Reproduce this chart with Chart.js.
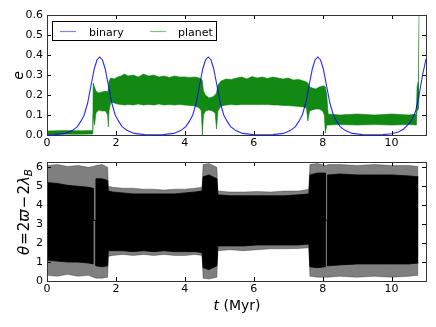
<!DOCTYPE html>
<html lang="en">
<head>
<meta charset="UTF-8">
<title>binary / planet eccentricity</title>
<script src="https://cdn.jsdelivr.net/npm/chart.js@4.4.0/dist/chart.umd.min.js"></script>
<style>
  body { margin: 0; background: #fff; }
  canvas { position: absolute; left: 0; }
  #topChart { top: 0; }
  #botChart { top: 150px; }
</style>
</head>
<body>
<canvas id="topChart" width="436" height="150"></canvas>
<canvas id="botChart" width="436" height="177"></canvas>
<script>
// ticks
var xTicks = [0, 2, 4, 6, 8, 10];
var eTicks = [0, 0.1, 0.2, 0.3, 0.4, 0.5, 0.6];
var thetaTicks = [0, 1, 2, 3, 4, 5, 6];

// binary eccentricity
var binaryT = [0, 0.23, 0.53, 0.73, 0.88, 0.98, 1.08, 1.18, 1.28, 1.37, 1.45, 1.53, 1.61, 1.69, 1.78, 1.88, 1.98, 2.08, 2.18, 2.33, 2.53, 2.83, 3.1,
  3.38, 3.68, 3.88, 4.03, 4.13, 4.23, 4.33, 4.43, 4.52, 4.60, 4.68, 4.76, 4.84, 4.93, 5.03, 5.13, 5.23, 5.33, 5.48, 5.68, 5.98, 6.27,
  6.56, 6.86, 7.06, 7.21, 7.31, 7.41, 7.51, 7.61, 7.70, 7.78, 7.86, 7.94, 8.02, 8.11, 8.21, 8.31, 8.41, 8.51, 8.66, 8.86, 9.16, 9.45,
  9.75, 10.0, 10.2, 10.35, 10.5, 10.6, 10.7, 10.8, 10.9, 11.0];
var binaryE = [0.001, 0.002, 0.008, 0.022, 0.042, 0.068, 0.10, 0.16, 0.25, 0.33, 0.375, 0.39, 0.375, 0.33, 0.25, 0.16, 0.10, 0.068, 0.042, 0.022, 0.008, 0.002, 0.001,
  0.002, 0.008, 0.022, 0.042, 0.068, 0.10, 0.16, 0.25, 0.33, 0.375, 0.39, 0.375, 0.33, 0.25, 0.16, 0.10, 0.068, 0.042, 0.022, 0.008, 0.002, 0.001,
  0.002, 0.008, 0.022, 0.042, 0.068, 0.10, 0.16, 0.25, 0.33, 0.375, 0.39, 0.375, 0.33, 0.25, 0.16, 0.10, 0.068, 0.042, 0.022, 0.008, 0.002, 0.001,
  0.002, 0.006, 0.015, 0.03, 0.055, 0.08, 0.12, 0.2, 0.3, 0.38];

// planet eccentricity: upper and lower edge of the oscillation band
var planetT = [0, 0.5, 1.0, 1.33, 1.34, 1.38, 1.42, 1.5, 1.6, 1.7, 1.76, 1.78, 1.8, 1.85, 1.95, 2.05, 2.15, 2.25, 2.35, 2.5,
  2.65, 2.8, 2.95, 3.1, 3.25, 3.4, 3.55, 3.7, 3.85, 4.0, 4.15, 4.3, 4.42, 4.48, 4.51, 4.54, 4.6, 4.7, 4.8, 4.88,
  4.92, 4.96, 5.05, 5.2, 5.35, 5.5, 5.65, 5.8, 5.95, 6.1, 6.25, 6.4, 6.55, 6.7, 6.85, 7.0, 7.15, 7.3, 7.45, 7.53,
  7.57, 7.62, 7.7, 7.8, 7.9, 8.0, 8.05, 8.08, 8.12, 8.16, 8.5, 9.0, 9.5, 10.0, 10.5, 10.72, 10.74, 10.78, 10.8];
var planetHi = [0.02, 0.022, 0.021, 0.022, 0.26, 0.24, 0.22, 0.21, 0.215, 0.22, 0.215, 0.23, 0.27, 0.285, 0.28, 0.29, 0.295, 0.305, 0.295, 0.30,
  0.29, 0.305, 0.295, 0.30, 0.29, 0.295, 0.288, 0.295, 0.29, 0.29, 0.288, 0.29, 0.285, 0.28, 0.27, 0.22, 0.2, 0.185, 0.19, 0.2,
  0.21, 0.25, 0.27, 0.28, 0.278, 0.285, 0.29, 0.28, 0.292, 0.285, 0.29, 0.283, 0.29, 0.285, 0.28, 0.285, 0.275, 0.278, 0.27, 0.265,
  0.26, 0.24, 0.235, 0.23, 0.24, 0.245, 0.245, 0.24, 0.2, 0.105, 0.1, 0.105, 0.1, 0.105, 0.1, 0.105, 0.24, 0.27, 0.65];
var planetLo = [0.003, 0.004, 0.004, 0.005, 0.10, 0.05, 0.11, 0.125, 0.12, 0.12, 0.10, 0.04, 0.12, 0.165, 0.16, 0.155, 0.152, 0.15, 0.153, 0.15,
  0.155, 0.15, 0.153, 0.15, 0.155, 0.15, 0.153, 0.15, 0.152, 0.15, 0.148, 0.145, 0.135, 0.12, 0.0, 0.1, 0.12, 0.125, 0.12, 0.11,
  0.03, 0.12, 0.145, 0.15, 0.152, 0.15, 0.153, 0.152, 0.153, 0.152, 0.153, 0.152, 0.15, 0.15, 0.148, 0.147, 0.145, 0.143, 0.14, 0.135,
  0.07, 0.12, 0.125, 0.13, 0.13, 0.12, 0.1, 0.01, 0.05, 0.05, 0.052, 0.05, 0.052, 0.05, 0.052, 0.05, 0.12, 0.13, 0.2];

// resonant angle: outer (grey spikes) and inner (solid black) band edges
var thetaT = [0, 0.3, 0.6, 0.9, 1.2, 1.34, 1.34, 1.42, 1.42, 1.6, 1.76, 1.78, 1.9, 2.2, 2.5, 2.8, 3.1, 3.4, 3.7, 4.0,
  4.3, 4.5, 4.53, 4.7, 4.93, 4.96, 5.3, 5.7, 6.1, 6.5, 6.9, 7.3, 7.6, 7.63, 7.85, 8.08, 8.08, 8.14, 8.14, 8.5,
  9.0, 9.5, 10.0, 10.5, 10.78];
var thetaOutHi = [6.1, 6.15, 6.05, 6.1, 6.0, 6.05, 6.05, 6.1, 6.1, 6.15, 6.0, 5.0, 4.95, 4.9, 4.9, 4.85, 4.85, 4.8, 4.85, 4.85,
  4.9, 4.95, 6.15, 6.2, 6.0, 4.75, 4.7, 4.7, 4.72, 4.7, 4.75, 4.75, 4.85, 6.15, 6.2, 6.1, 6.1, 6.1, 6.15, 6.15,
  6.1, 6.15, 6.1, 6.1, 6.05];
var thetaOutLo = [0.3, 0.25, 0.35, 0.25, 0.3, 0.2, 0.2, 0.15, 0.15, 0.15, 0.2, 1.3, 1.35, 1.4, 1.35, 1.4, 1.35, 1.4, 1.35, 1.35,
  1.4, 1.35, 0.15, 0.1, 0.2, 1.6, 1.65, 1.6, 1.65, 1.7, 1.7, 1.72, 1.75, 0.25, 0.2, 0.2, 0.2, 0.2, 0.2, 0.25,
  0.2, 0.25, 0.2, 0.25, 0.3];
var thetaInHi = [5.2, 5.15, 5.05, 5.0, 4.95, 4.9, 3.2, 3.2, 5.4, 5.4, 5.3, 4.75, 4.7, 4.65, 4.6, 4.6, 4.6, 4.6, 4.6, 4.65,
  4.7, 4.75, 5.5, 5.6, 5.4, 4.55, 4.5, 4.5, 4.5, 4.5, 4.5, 4.55, 4.6, 5.6, 5.7, 5.7, 3.2, 3.2, 5.6, 5.65,
  5.6, 5.6, 5.6, 5.55, 5.5];
var thetaInLo = [1.1, 1.05, 1.0, 1.0, 0.95, 0.9, 3.2, 3.2, 0.8, 0.75, 0.8, 1.6, 1.6, 1.6, 1.55, 1.6, 1.55, 1.6, 1.55, 1.55,
  1.55, 1.5, 0.7, 0.6, 0.8, 1.85, 1.85, 1.85, 1.9, 1.9, 1.9, 1.9, 1.95, 0.75, 0.7, 0.75, 3.2, 3.2, 0.8, 0.85,
  0.9, 0.9, 0.9, 0.9, 0.95];

var FONT = 'DejaVu Sans';

function pts(xs, ys) {
  return xs.map(function (x, i) { return { x: x, y: ys[i] }; });
}

// matplotlib-like frame with inward ticks on all four sides
var frame = {
  id: 'frame',
  afterDatasetsDraw: function (chart) {
    var ctx = chart.ctx, a = chart.chartArea, sx = chart.scales.x, sy = chart.scales.y;
    ctx.save();
    ctx.strokeStyle = '#000';
    ctx.lineWidth = 1;
    ctx.beginPath();
    sx.ticks.forEach(function (t) {
      var px = Math.round(sx.getPixelForValue(t.value)) + 0.5;
      ctx.moveTo(px, a.bottom); ctx.lineTo(px, a.bottom - 4);
      ctx.moveTo(px, a.top); ctx.lineTo(px, a.top + 4);
    });
    sy.ticks.forEach(function (t) {
      var py = Math.round(sy.getPixelForValue(t.value)) + 0.5;
      ctx.moveTo(a.left, py); ctx.lineTo(a.left + 4, py);
      ctx.moveTo(a.right, py); ctx.lineTo(a.right - 4, py);
    });
    ctx.stroke();
    ctx.strokeStyle = '#333';
    ctx.strokeRect(a.left + 0.5, a.top + 0.5, a.right - a.left, a.bottom - a.top);
    ctx.restore();
  }
};

function makeOptions(yMin, yMax, yTicks, yFmt, pad, xHeight) {
  return {
    responsive: false,
    animation: false,
    devicePixelRatio: 1,
    layout: { padding: pad },
    plugins: { legend: { display: false }, tooltip: { enabled: false } },
    elements: { point: { radius: 0 }, line: { tension: 0, borderWidth: 1 } },
    scales: {
      x: {
        type: 'linear', min: 0, max: 11,
        grid: { display: false, drawTicks: false },
        border: { display: false },
        afterBuildTicks: function (s) { s.ticks = xTicks.map(function (v) { return { value: v }; }); },
        afterFit: function (s) { s.height = xHeight; },
        ticks: { padding: 2, color: '#000', autoSkip: false, maxRotation: 0,
          font: { family: FONT, size: 11 },
          callback: function (v) { return String(v); } }
      },
      y: {
        min: yMin, max: yMax,
        grid: { display: false, drawTicks: false },
        border: { display: false },
        afterBuildTicks: function (s) { s.ticks = yTicks.map(function (v) { return { value: v }; }); },
        afterFit: function (s) { s.width = 47; },
        ticks: { padding: 4, color: '#000', autoSkip: false,
          font: { family: FONT, size: 11 },
          callback: yFmt }
      }
    }
  };
}

// top panel: eccentricities
var topLabels = {
  id: 'topLabels',
  afterDraw: function (chart) {
    var ctx = chart.ctx;
    ctx.save();
    ctx.fillStyle = '#000';
    ctx.translate(23, 75.5);
    ctx.rotate(-Math.PI / 2);
    ctx.font = 'italic 14px ' + FONT;
    ctx.textAlign = 'center';
    ctx.textBaseline = 'alphabetic';
    ctx.fillText('e', 0, 0);
    ctx.restore();

    // legend box
    ctx.save();
    ctx.fillStyle = '#fff';
    ctx.fillRect(52, 21, 165, 20);
    ctx.strokeStyle = '#000';
    ctx.lineWidth = 1;
    ctx.strokeRect(52.5, 21.5, 164, 19);
    ctx.lineWidth = 1.2;
    ctx.strokeStyle = '#8080ff';
    ctx.beginPath(); ctx.moveTo(60, 31.5); ctx.lineTo(76, 31.5); ctx.stroke();
    ctx.strokeStyle = '#80c080';
    ctx.beginPath(); ctx.moveTo(150, 31.5); ctx.lineTo(166, 31.5); ctx.stroke();
    ctx.fillStyle = '#000';
    ctx.font = '11px ' + FONT;
    ctx.textBaseline = 'alphabetic';
    ctx.fillText('binary', 89, 35.5);
    ctx.fillText('planet', 178, 35.5);
    ctx.restore();
  }
};

new Chart(document.getElementById('topChart'), {
  type: 'line',
  data: {
    datasets: [
      { label: 'binary', data: pts(binaryT, binaryE), borderColor: 'rgba(0,0,255,0.85)', borderWidth: 1.1, fill: false, order: 0 },
      { label: 'planet', data: pts(planetT, planetHi), borderColor: 'rgba(0,128,0,0.55)', backgroundColor: 'rgba(0,128,0,0.93)', fill: '+1', order: 2 },
      { label: 'planet lo', data: pts(planetT, planetLo), borderColor: 'rgba(0,128,0,0.55)', fill: false, order: 1 }
    ]
  },
  options: makeOptions(0, 0.6, eTicks, function (v) { return v.toFixed(1); }, { left: 0, right: 10, top: 15, bottom: 0 }, 15),
  plugins: [frame, topLabels]
});

// bottom panel: theta
var botLabels = {
  id: 'botLabels',
  afterDraw: function (chart) {
    var ctx = chart.ctx;
    ctx.save();
    ctx.fillStyle = '#000';
    // x title "t (Myr)"
    ctx.textBaseline = 'alphabetic';
    var it = 'italic 14px ' + FONT, rm = '14px ' + FONT;
    ctx.font = it; var w1 = ctx.measureText('t').width;
    ctx.font = rm; var w2 = ctx.measureText(' (Myr)').width;
    var x0 = 237 - (w1 + w2) / 2;
    ctx.font = it; ctx.fillText('t', x0, 160);
    ctx.font = rm; ctx.fillText(' (Myr)', x0 + w1, 160);

    // y title  theta = 2 varpi - 2 lambda_B
    var it15 = 'italic 15px ' + FONT, rm15 = '15px ' + FONT;
    var parts = [
      { s: '\u03b8', f: it15, dy: 0, gap: 1 },
      { s: '=', f: rm15, dy: 0, gap: 1 },
      { s: '2', f: rm15, dy: 0, gap: 0 },
      { s: '\u03d6', f: it15, dy: 0, gap: 1 },
      { s: '\u2212', f: rm15, dy: 0, gap: 1 },
      { s: '2', f: rm15, dy: 0, gap: 0 },
      { s: '\u03bb', f: it15, dy: 0, gap: 0 },
      { s: 'B', f: 'italic 10.5px ' + FONT, dy: 3, gap: 0 }
    ];
    var total = 0;
    parts.forEach(function (p) { ctx.font = p.f; p.w = ctx.measureText(p.s).width + p.gap; total += p.w; });
    ctx.translate(28.5, 62);
    ctx.rotate(-Math.PI / 2);
    var cx = -total / 2;
    parts.forEach(function (p) { ctx.font = p.f; ctx.fillText(p.s, cx, p.dy); cx += p.w; });
    ctx.restore();
  }
};

new Chart(document.getElementById('botChart'), {
  type: 'line',
  data: {
    datasets: [
      { data: pts(thetaT, thetaOutHi), borderColor: 'rgba(0,0,0,0.3)', backgroundColor: 'rgba(0,0,0,0.5)', fill: '+1', order: 4 },
      { data: pts(thetaT, thetaOutLo), borderColor: 'rgba(0,0,0,0.3)', fill: false, order: 3 },
      { data: pts(thetaT, thetaInHi), borderColor: 'rgba(0,0,0,0.8)', backgroundColor: '#000', fill: '+1', order: 2 },
      { data: pts(thetaT, thetaInLo), borderColor: 'rgba(0,0,0,0.8)', fill: false, order: 1 }
    ]
  },
  options: makeOptions(0, 2 * Math.PI, thetaTicks, function (v) { return String(v); }, { left: 0, right: 10, top: 12, bottom: 0 }, 46),
  plugins: [frame, botLabels]
});
</script>
</body>
</html>
